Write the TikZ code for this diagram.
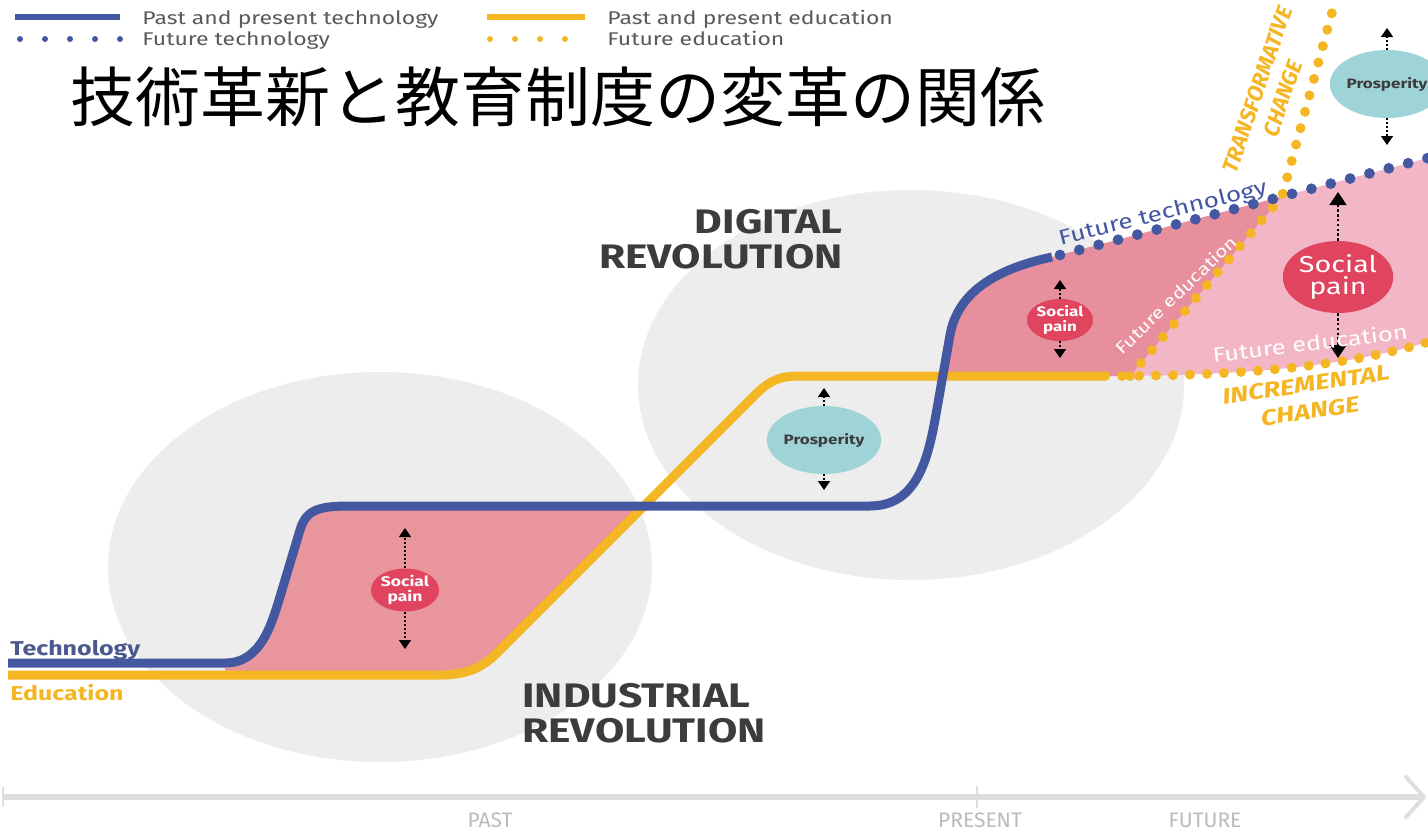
\documentclass[tikz,border=0pt]{standalone}
\usepackage{fontspec}
\setmainfont{Fira Sans}
\newfontfamily\wide[FakeStretch=1.25]{Fira Sans}
\newfontfamily\jpfont{Noto Sans CJK JP}
\usetikzlibrary{arrows.meta,shapes.geometric}
\definecolor{techblue}{HTML}{4458A2}
\definecolor{eduyellow}{HTML}{F5B624}
\definecolor{pinkA}{HTML}{E8969B}
\definecolor{pinkB}{HTML}{E78F9C}
\definecolor{pinkC}{HTML}{F3B6C6}
\definecolor{painred}{HTML}{E0445F}
\definecolor{prosp}{HTML}{9ED3D7}
\definecolor{bgcirc}{HTML}{EDEDED}
\definecolor{darktext}{HTML}{3C3C3C}
\definecolor{legtext}{HTML}{5A5A5A}
\definecolor{axisgray}{HTML}{DEDEDE}
\definecolor{axistext}{HTML}{BBBBBB}
\definecolor{techlabel}{HTML}{4B5A8E}
\newcommand{\fsz}[2]{\fontsize{#1}{#2}\selectfont}
\begin{document}
\begin{tikzpicture}[x=0.5pt,y=-0.5pt,
  techline/.style={draw=techblue,line width=4.5pt},
  eduline/.style={draw=eduyellow,line width=4.5pt},
  techdots/.style={draw=techblue,line width=5.4pt,line cap=round,dash pattern=on 0pt off 10pt},
  edudots/.style={draw=eduyellow,line width=5pt,line cap=round,dash pattern=on 0pt off 8.5pt},
  legsolid/.style={line width=2.6pt},
  legdots/.style={line width=3pt,line cap=round,dash pattern=on 0pt off 12.5pt},
  pain/.style={ellipse,fill=painred,inner sep=0pt,text=white,align=center},
  prospnode/.style={ellipse,fill=prosp,inner sep=0pt,text=darktext,font=\wide\bfseries\fsz{6.8}{7}},
  updown/.style={draw=black,line width=0.7pt,dash pattern=on 1pt off 1pt,-{Triangle[width=6pt,length=4.5pt]}},
  updownbig/.style={draw=black,line width=0.9pt,dash pattern=on 1.2pt off 1.2pt,-{Triangle[width=8.5pt,length=6.5pt]}},
  bigtitle/.style={font=\wide\bfseries\fsz{17}{17},text=darktext,inner sep=0pt},
  legtxt/.style={font=\wide\fsz{9.2}{10},text=legtext,inner sep=0pt,anchor=base west},
  axtxt/.style={font=\fsz{10.5}{11},text=axistext,inner sep=0pt,anchor=base},
  whitetxt/.style={text=white,inner sep=0pt},
  changetxt/.style={text=eduyellow,inner sep=0pt,align=center}
]
\useasboundingbox (0,0) rectangle (1428,831);
\fill[white] (0,0) rectangle (1428,831);

% background circles
\fill[bgcirc] (380,567) ellipse [x radius=272, y radius=195];
\fill[bgcirc] (911,385) ellipse [x radius=273, y radius=195];

% key points
\coordinate (X) at (1282,196.4);
\coordinate (techEnd) at (1428,158);
\coordinate (incEnd) at (1428,342);
\coordinate (transStart) at (1130,376);
\coordinate (transEnd) at (1334,5);

% pink region 1
\fill[pinkA] (225,663) .. controls (262,663) and (272,623) .. (282,590) -- (300,530)
  .. controls (306,510) and (318,506) .. (350,506) -- (645,506) -- (505,645)
  .. controls (490,660) and (478,675) .. (440,675) -- (225,675) -- cycle;

% light pink region (right of transformative change)
\fill[pinkC] (X) -- (techEnd) -- (incEnd) .. controls (1350,365) and (1250,376) .. (1105,376) -- cycle;

% dark pink region
\begin{scope}
\clip (0,0) rectangle (1428,376);
\fill[pinkB] (870,506) .. controls (915,506) and (927,463) .. (935,420) -- (950,335)
  .. controls (958,290) and (1000,268) .. (1052,257) -- (X) -- (transStart) -- (870,376) -- cycle;
\end{scope}

% education solid
\draw[eduline] (8,675) -- (440,675) .. controls (478,675) and (490,660) .. (505,645)
  -- (755,395) .. controls (770,380) and (780,376) .. (800,376) -- (1105,376);
% technology solid
\draw[techline] (8,663) -- (225,663) .. controls (262,663) and (272,623) .. (282,590) -- (300,530)
  .. controls (306,510) and (318,506) .. (350,506) -- (870,506)
  .. controls (915,506) and (927,463) .. (935,420) -- (950,335)
  .. controls (958,290) and (1000,268) .. (1052,257);

% future lines
\draw[edudots] (1105,376) .. controls (1250,376) and (1350,365) .. (incEnd);
\draw[edudots] (transStart) -- (X) -- (transEnd);
\draw[techdots] (1060,255) -- (techEnd);

% social pain and prosperity
\node[pain,font=\wide\bfseries\fsz{7}{7.5},minimum width=30pt,minimum height=21.5pt] (sp1) at (405,590) {Social\\pain};
\coordinate (sp1t) at (405,528);
\coordinate (sp1b) at (405,649);
\draw[updown] (sp1.north) -- (sp1t);
\draw[updown] (sp1.south) -- (sp1b);

\node[pain,font=\wide\bfseries\fsz{6.8}{7.3},minimum width=28.5pt,minimum height=21pt] (sp2) at (1060,320) {Social\\pain};
\coordinate (sp2t) at (1060,280);
\coordinate (sp2b) at (1060,358);
\draw[updown] (sp2.north) -- (sp2t);
\draw[updown] (sp2.south) -- (sp2b);

\node[pain,font=\wide\fsz{11.5}{11},minimum width=50pt,minimum height=36pt] (sp3) at (1338,277) {Social\\pain};
\coordinate (sp3t) at (1338,192);
\coordinate (sp3b) at (1338,358);
\draw[updownbig] (sp3.north) -- (sp3t);
\draw[updownbig] (sp3.south) -- (sp3b);

\node[prospnode,minimum width=47pt,minimum height=34pt] (pr1) at (824,440) {Prosperity};
\coordinate (pr1t) at (824,388);
\coordinate (pr1b) at (824,490);
\draw[updown] (pr1.north) -- (pr1t);
\draw[updown] (pr1.south) -- (pr1b);

\node[prospnode,minimum width=47pt,minimum height=34pt] (pr2) at (1387,84) {Prosperity};
\coordinate (pr2t) at (1387,28);
\coordinate (pr2b) at (1387,145);
\draw[updown] (pr2.north) -- (pr2t);
\draw[updown] (pr2.south) -- (pr2b);

% labels on the future lines
\node[inner sep=0pt,text=techblue,font=\wide\fsz{10.5}{11},rotate=14] (ftech) at (1163,214) {Future technology};
\node[whitetxt,font=\wide\fsz{8.4}{9},rotate=44] (fedu1) at (1176,295) {Future education};
\node[whitetxt,font=\wide\fsz{10.2}{11},rotate=7] (fedu2) at (1310,343) {Future education};
\node[changetxt,font=\bfseries\itshape\fsz{11}{13.5},rotate=71] (trans) at (1270,94) {TRANSFORMATIVE\\CHANGE};
\node[changetxt,font=\wide\bfseries\itshape\fsz{11}{13.5},rotate=8.5] (incr) at (1308,398) {INCREMENTAL\\CHANGE};

% big titles
\node[bigtitle,anchor=base east] (dig1) at (843,233) {DIGITAL};
\node[bigtitle,anchor=base east] (dig2) at (843,268) {REVOLUTION};
\node[bigtitle,anchor=base west] (ind1) at (522,707) {INDUSTRIAL};
\node[bigtitle,anchor=base west] (ind2) at (522,742) {REVOLUTION};

% left labels
\node[inner sep=0pt,anchor=base west,text=techlabel,font=\wide\bfseries\fsz{10}{11}] (tlab) at (10,655) {Technology};
\node[inner sep=0pt,anchor=base west,text=eduyellow,font=\wide\bfseries\fsz{10}{11}] (elab) at (10,700) {Education};

% legend
\draw[legsolid,techblue] (15,17) -- (120,17);
\draw[legdots,techblue] (20,39) -- (120,39);
\draw[legsolid,eduyellow] (487,17) -- (585,17);
\draw[legdots,eduyellow] (490,39) -- (590,39);
\node[legtxt] (lg1) at (142,24) {Past and present technology};
\node[legtxt] (lg2) at (142,45) {Future technology};
\node[legtxt] (lg3) at (607,24) {Past and present education};
\node[legtxt] (lg4) at (607,45) {Future education};

% title
\node[inner sep=0pt,anchor=west,font=\jpfont\fsz{32.5}{36}] (title) at (70,97) {技術革新と教育制度の変革の関係};

% time axis
\coordinate (axL) at (3,797);
\coordinate (axR) at (1424,797);
\draw[axisgray,line width=3pt] (axL) -- (axR);
\draw[axisgray,line width=2pt,line cap=round,line join=round] (1406,777) -- (1424,797) -- (1406,817);
\draw[axisgray,line width=1pt] (3,787) -- (3,807);
\draw[axisgray,line width=1pt] (977,786) -- (977,808);
\node[axtxt] (past) at (490,827) {PAST};
\node[axtxt] (present) at (980,827) {PRESENT};
\node[axtxt] (future) at (1205,827) {FUTURE};
\end{tikzpicture}
\end{document}
